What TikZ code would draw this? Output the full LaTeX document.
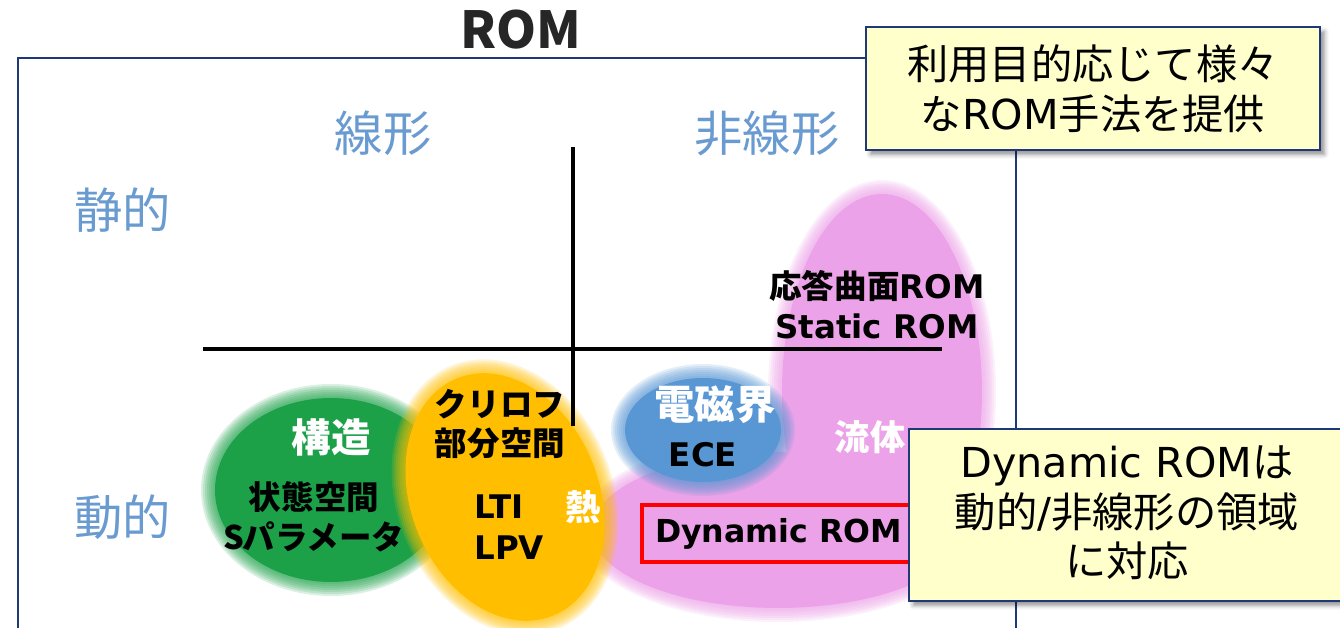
\documentclass[tikz,border=0pt]{standalone}
\usepackage{fontspec}
\setmainfont{Noto Sans CJK JP}
\newfontfamily\dv{DejaVu Sans}
\usetikzlibrary{shadows.blur}
\definecolor{navy}{RGB}{31,56,120}
\definecolor{axlbl}{RGB}{105,155,208}
\definecolor{pinkb}{RGB}{236,162,232}
\definecolor{blueb}{RGB}{88,150,212}
\definecolor{greenb}{RGB}{28,160,72}
\definecolor{orangeb}{RGB}{255,190,0}
\definecolor{calloutfill}{RGB}{255,255,204}
\definecolor{titlec}{RGB}{38,38,38}
\newcommand\softblob[5]{%
  \foreach \d in {14,12,10,8,6,4,2}{%
    \pgfmathsetmacro\rxa{#4+\d}\pgfmathsetmacro\rya{#5+\d}%
    \fill[#1, fill opacity=0.16] (#2,#3) ellipse [x radius=\rxa, y radius=\rya];}%
  \pgfmathsetmacro\rxa{#4}\pgfmathsetmacro\rya{#5}%
  \fill[#1] (#2,#3) ellipse [x radius=\rxa, y radius=\rya];}
\begin{document}
\begin{tikzpicture}[x=0.02cm,y=-0.02cm,
  axlabel/.style={text=axlbl, font=\fontsize{27.5}{30}\selectfont, inner sep=0},
  blobtxt/.style={font=\bfseries\fontsize{18.5}{22.7}\selectfont, align=center, inner sep=0},
  whitetxt/.style={text=white, font=\bfseries\fontsize{#1}{#1}\selectfont, inner sep=0},
  callout/.style={draw=navy, line width=1.1pt, fill=calloutfill, inner sep=0,
    blur shadow={shadow xshift=2.5pt, shadow yshift=-2.5pt, shadow blur radius=2.5pt, shadow opacity=45},
    font=\fontsize{23.5}{28.3}\selectfont, align=center},
  axis/.style={line width=2.3pt, black},
  frame/.style={navy, line width=1pt}
]
\useasboundingbox (0,0) rectangle (1340,628);

% title
\node[text=titlec, font=\bfseries\fontsize{29}{30}\selectfont, inner sep=0] (title) at (521,30) {ROM};

% frame
\coordinate (fbl) at (18,628);
\coordinate (ftl) at (18,58);
\coordinate (ftr) at (1016,58);
\coordinate (fbr) at (1016,628);
\draw[frame] (fbl) -- (ftl) -- (ftr) -- (fbr);

% axis labels
\node[axlabel] (lin) at (383,133) {線形};
\node[axlabel] (nonlin) at (767,133) {非線形};
\node[axlabel] (static) at (123,210) {静的};
\node[axlabel] (dynamic) at (123,517) {動的};

% pink blob (union of two ellipses, drawn in single paths)
\foreach \d in {14,12,10,8,6,4,2}{%
  \pgfmathsetmacro\ax{100+\d}\pgfmathsetmacro\ay{198+\d}%
  \pgfmathsetmacro\bx{186+\d}\pgfmathsetmacro\by{78+\d}%
  \fill[pinkb, fill opacity=0.16] (882,392) ellipse [x radius=\ax, y radius=\ay]
     (778,530) ellipse [x radius=\bx, y radius=\by];}
\fill[pinkb] (882,392) ellipse [x radius=100, y radius=198]
   (778,530) ellipse [x radius=186, y radius=78];

% blue blob
\softblob{blueb}{703}{430}{78}{52}
% green blob
\softblob{greenb}{331}{490}{116}{92}
% orange blob (tilted)
\begin{scope}[rotate around={22:(505,497)}]
\softblob{orangeb}{505}{497}{94}{128}
\end{scope}

% axes
\coordinate (vt) at (573,147);
\coordinate (vb) at (573,426);
\coordinate (hl) at (203,349);
\coordinate (hr) at (942,349);
\draw[axis] (vt) -- (vb);
\draw[axis] (hl) -- (hr);

% blob texts
\node[blobtxt] (rsm) at (877,305) {応答曲面{\dv ROM}\\{\dv Static ROM}};
\node[whitetxt=23] (em) at (715,405) {電磁界};
\node[blobtxt] (ece) at (703,455) {\dv ECE};
\node[whitetxt=20] (fluid) at (870,437) {流体};
\node[whitetxt=22.5] (struct) at (331,437) {構造};
\node[blobtxt] (ss) at (314,517) {状態空間\\S{\kern-0.05em}パラメータ};
\node[blobtxt] (kry) at (500,424) {クリロフ\\部分空間};
\node[blobtxt, align=left, anchor=west, font=\bfseries\fontsize{18.5}{23.2}\selectfont] (lti) at (474,527) {\dv LTI\\\dv LPV};
\node[whitetxt=20] (heat) at (583,507) {熱};

% Dynamic ROM red box
\node[draw=red, line width=2.6pt, minimum width=5.46cm, minimum height=1.14cm, inner sep=0,
      font=\bfseries\fontsize{18}{20}\selectfont] (drom) at (778.5,533.5) {\dv Dynamic ROM};

% callouts
\node[callout, minimum width=9.08cm, minimum height=2.46cm] (c1) at (1093,88.5)
  {利用目的応じて様々\\な{\dv ROM}手法を提供};
\node[callout, minimum width=8.9cm, minimum height=3.44cm, anchor=north west] (c2) at (908,428)
  {};
\node[font=\fontsize{23.5}{28.3}\selectfont, align=center, inner sep=0] (c2t) at (1127,513)
  {{\dv Dynamic ROM}は\\動的{\dv /}非線形の領域\\に対応};
\end{tikzpicture}
\end{document}
